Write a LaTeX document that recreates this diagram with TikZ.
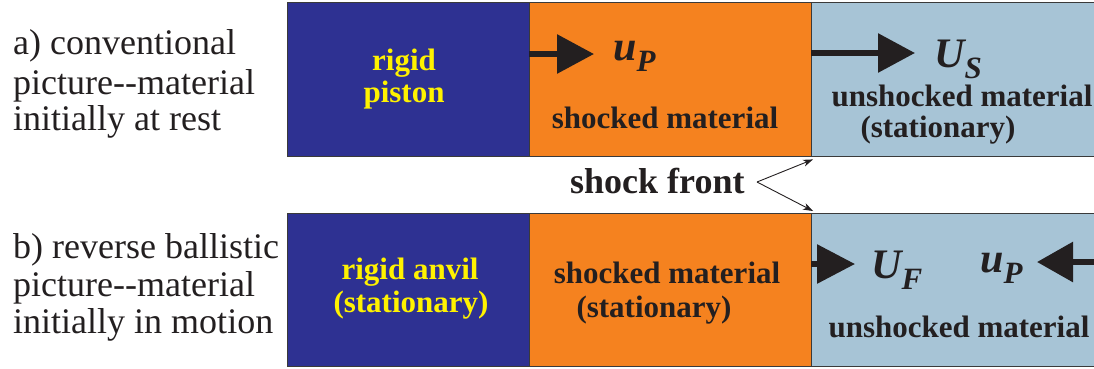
\documentclass[tikz,border=0pt]{standalone}
\usepackage{fontspec}
\setmainfont{Liberation Serif}
\usetikzlibrary{arrows.meta}
\definecolor{pistonblue}{HTML}{2E3192}
\definecolor{shockorange}{HTML}{F5821F}
\definecolor{restblue}{HTML}{A7C4D6}
\definecolor{labelyellow}{HTML}{FFF200}
\definecolor{inkdark}{HTML}{231F20}
\definecolor{edgegray}{HTML}{3A3A3A}
\tikzset{
  region/.style={draw=edgegray, line width=1.4pt, rectangle, inner sep=0pt, anchor=north west},
  boldtxt/.style={inner sep=0pt, anchor=base, text=inkdark, font=\fontsize{31}{31}\selectfont\bfseries},
  yellowtxt/.style={boldtxt, text=labelyellow},
  sidetxt/.style={inner sep=0pt, anchor=base west, text=inkdark, font=\fontsize{36}{36}\selectfont},
  veltxt/.style={inner sep=0pt, anchor=base west, text=inkdark, font=\fontsize{42}{42}\selectfont\bfseries\itshape},
  varrow/.style={draw=inkdark, line width=6pt, -{Triangle[length=37pt,width=38pt]}},
  thinarrow/.style={draw=inkdark, line width=0.9pt, -{Stealth[length=10pt,width=7pt,inset=3pt]}},
}
\newcommand{\subsc}[1]{\raisebox{-11pt}{\fontsize{31}{31}\selectfont #1}}
\begin{document}
\begin{tikzpicture}[x=1pt,y=-1pt]
\useasboundingbox (0,0) rectangle (1094,368);
% top row
\node[region, fill=pistonblue, minimum width=242pt, minimum height=154pt] (pa) at (287,2) {};
\node[region, fill=shockorange, minimum width=282pt, minimum height=154pt] (sa) at (529,2) {};
\node[region, fill=restblue, minimum width=290pt, minimum height=154pt] (ua) at (811,2) {};
% bottom row
\node[region, fill=pistonblue, minimum width=242pt, minimum height=153pt] (pb) at (287,213) {};
\node[region, fill=shockorange, minimum width=282pt, minimum height=153pt] (sb) at (529,213) {};
\node[region, fill=restblue, minimum width=290pt, minimum height=153pt] (ub) at (811,213) {};
% left captions
\node[sidetxt] (a1) at (13,54) {a) conventional};
\node[sidetxt] (a2) at (13,94) {picture-{}-material};
\node[sidetxt] (a3) at (13,130) {initially at rest};
\node[sidetxt] (b1) at (13,258) {b) reverse ballistic};
\node[sidetxt] (b2) at (13,296) {picture-{}-material};
\node[sidetxt] (b3) at (13,333) {initially in motion};
% top texts
\node[yellowtxt] (t1) at (404,70) {rigid};
\node[yellowtxt] (t2) at (404,102) {piston};
\node[boldtxt] (t3) at (665,128) {shocked material};
\node[boldtxt] (t4) at (962,106) {unshocked material};
\node[boldtxt] (t5) at (938,137) {(stationary)};
% bottom texts
\node[yellowtxt] (r1) at (410,279) {rigid anvil};
\node[yellowtxt] (r2) at (411,312) {(stationary)};
\node[boldtxt] (r3) at (667,283) {shocked material};
\node[boldtxt] (r4) at (654,317) {(stationary)};
\node[boldtxt] (r5) at (959,337) {unshocked material};
% velocity labels
\node[veltxt] (upa) at (613,60) {u\subsc{P}};
\node[veltxt] (usa) at (934,67) {U\subsc{S}};
\node[veltxt] (ufb) at (871,278) {U\subsc{F}};
\node[veltxt] (upb) at (980,272) {u\subsc{P}};
% velocity arrows
\coordinate (tipa) at (594,54);
\coordinate (tipb) at (915,53);
\coordinate (tipc) at (855,264);
\coordinate (tipd) at (1037,262);
\draw[varrow] (sa.west |- tipa) -- (tipa);
\draw[varrow] (ua.west |- tipb) -- (tipb);
\draw[varrow, -{Triangle[length=38pt,width=38pt]}] (ub.west |- tipc) -- (tipc);
\draw[varrow, -{Triangle[length=36pt,width=39pt]}] (ub.east |- tipd) -- (tipd);
% shock front
\node[boldtxt, anchor=base west, font=\fontsize{36}{36}\selectfont\bfseries] (sf) at (570,193) {shock front};
\coordinate (sfo) at (757,182);
\draw[thinarrow] (sfo) -- ([shift={(2pt,-2pt)}]ua.south west);
\draw[thinarrow] (sfo) -- ([shift={(2pt,2pt)}]ub.north west);
\end{tikzpicture}
\end{document}
